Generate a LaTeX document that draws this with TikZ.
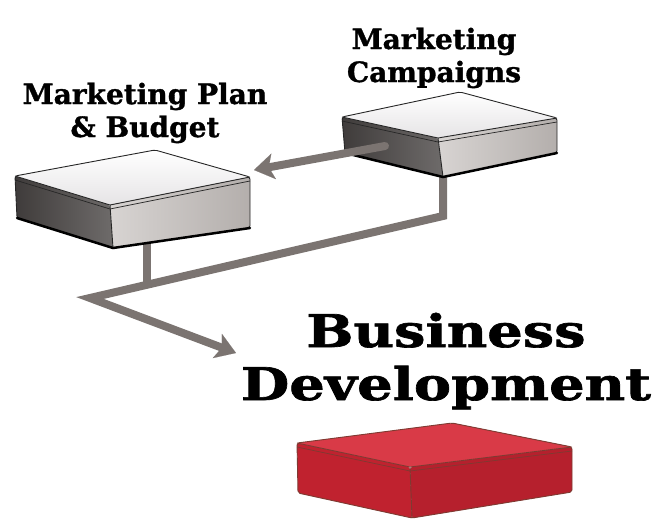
\documentclass[tikz,border=0pt]{standalone}
\usepackage{fontspec}
\newfontfamily\labelfont[FakeBold=1.2]{DejaVu Serif}
\newfontfamily\titlefont[FakeStretch=1.24,FakeBold=1.5]{DejaVu Serif}
\usetikzlibrary{arrows.meta,calc}

\definecolor{wire}{HTML}{7B7471}
\definecolor{slabtop}{HTML}{F1EFF1}
\definecolor{slabdark}{HTML}{4A4645}
\definecolor{slabside}{HTML}{BDB7B4}
\definecolor{redtop}{HTML}{D93A47}
\definecolor{redside}{HTML}{C0222F}
\definecolor{rededge}{HTML}{7E3A32}

\tikzset{
  wire/.style={draw=wire, line width=8pt, line join=miter},
  wiretip/.style={-{Stealth[length=20pt,width=26pt,inset=5pt]}},
  boxlabel/.style={font=\labelfont\bfseries\fontsize{28}{33}\selectfont, align=center, anchor=base, inner sep=0pt},
  bigload/.style={font=\titlefont\bfseries\fontsize{45}{53}\selectfont, align=center, anchor=base, inner sep=0pt},
}

% faces of a flat slab: #1 prefix, #2 top, #3 left face, #4 right face, #5 edges
\newcommand{\drawslab}[5]{%
  \path[#3, rounded corners=2pt] (#1L) -- (#1F) -- (#1Fb) -- (#1Lb) -- cycle;
  \path[#4, rounded corners=2pt] (#1F) -- (#1R) -- (#1Rb) -- (#1Fb) -- cycle;
  \path[#2, rounded corners=2pt] (#1L) -- (#1B) -- (#1R) -- (#1F) -- cycle;
  \draw[#5, line width=0.7pt] ($(#1L)+(0,4)$) -- ($(#1F)+(0,4)$) -- ($(#1R)+(0,4)$);
  \draw[#5, line width=0.9pt, rounded corners=2pt] (#1L) -- (#1B) -- (#1R) -- (#1Rb) -- (#1Fb) -- (#1Lb) -- cycle;
  \draw[#5, line width=0.9pt] (#1L) -- (#1F) -- (#1R) (#1F) -- (#1Fb);
}

\begin{document}
\begin{tikzpicture}[x=1pt, y=-1pt]
  \useasboundingbox (0,0) rectangle (658,522);

  % Marketing Plan & Budget slab
  \coordinate (planL) at (15,176);  \coordinate (planB) at (155,150);
  \coordinate (planR) at (250,177); \coordinate (planF) at (110,205);
  \coordinate (planLb) at (17,218); \coordinate (planFb) at (113,248);
  \coordinate (planRb) at (250,228);
  % Marketing Campaigns slab
  \coordinate (campL) at (342,117);  \coordinate (campB) at (460,92);
  \coordinate (campR) at (557,118);  \coordinate (campF) at (438,138);
  \coordinate (campLb) at (345,153); \coordinate (campFb) at (443,177);
  \coordinate (campRb) at (557,153);
  % Business Development slab
  \coordinate (bizL) at (297,443);  \coordinate (bizB) at (452,423);
  \coordinate (bizR) at (572,447);  \coordinate (bizF) at (410,467);
  \coordinate (bizLb) at (298,493); \coordinate (bizFb) at (412,518);
  \coordinate (bizRb) at (572,492);

  % connector bends
  \coordinate (campdrop) at (443,216);
  \coordinate (bend) at (90,298);
  \coordinate (plandrop) at (147,285);
  \coordinate (biztip) at (236,353);
  \coordinate (campout) at (385,146);
  \coordinate (plantip) at (254,170);

  % lines under the slabs
  \draw[wire] (443,170) -- (campdrop) -- (bend) -- ($(bend)!0.93!(biztip)$);
  \draw[wire, wiretip, line width=0.1pt, draw=wire, fill=wire] ($(bend)!0.9!(biztip)$) -- (biztip);
  \draw[wire] (147,240) -- (plandrop);

  \drawslab{plan}{top color=white, bottom color=slabtop!90!gray}{left color=slabdark!85!black, right color=slabdark!80!white}{right color=slabside!85!gray, left color=slabside!60!white}{black!85}
  \drawslab{camp}{top color=white, bottom color=slabtop!90!gray}{left color=slabdark!85!black, right color=slabdark!80!white}{right color=slabside!85!gray, left color=slabside!60!white}{black!85}
  \draw[black, line width=2.5pt, line cap=round] (planLb) -- (planFb) -- (planRb);
  \draw[black, line width=2.5pt, line cap=round] (campLb) -- (campFb) -- (campRb);
  \drawslab{biz}{fill=redtop}{fill=redside}{fill=redside!95!black}{rededge}

  % arrow on top of the campaigns slab
  \draw[wire, line cap=round] (campout) -- ($(campout)!0.88!(plantip)$);
  \draw[wire, wiretip, line width=0.1pt, fill=wire] ($(campout)!0.85!(plantip)$) -- (plantip);

  % labels
  \node[boxlabel] (planlabel) at (145,137) {Marketing Plan\\\& Budget};
  \node[boxlabel] (camplabel) at (434,82) {Marketing\\Campaigns};
  \node[bigload] (bizlabel) at (446,400) {Business\\Development};
\end{tikzpicture}
\end{document}
